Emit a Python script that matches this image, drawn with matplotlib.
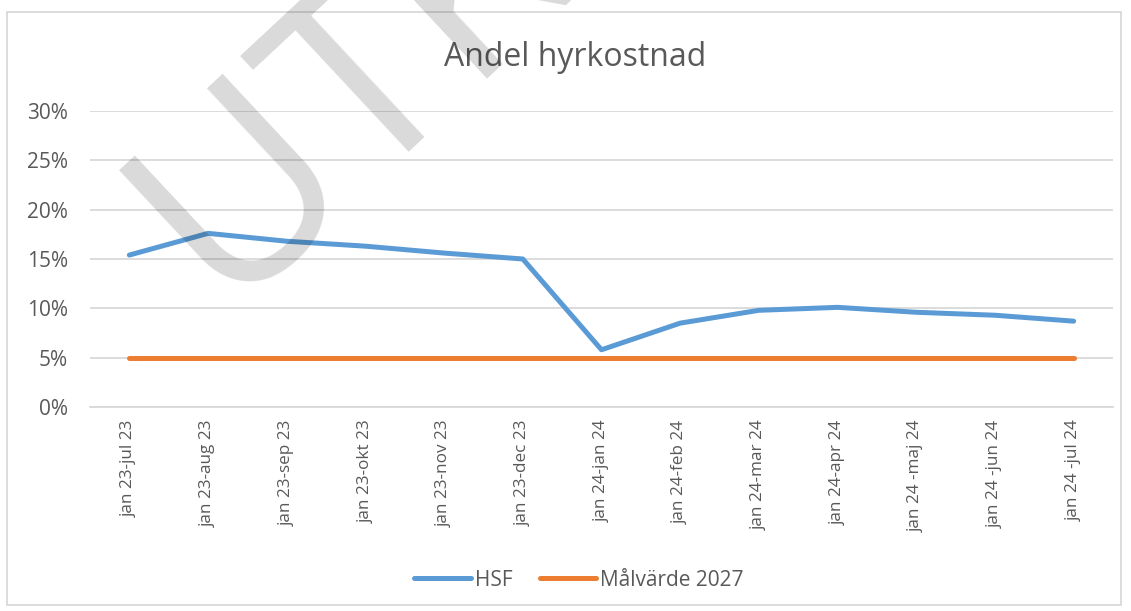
import matplotlib
matplotlib.use("Agg")
import matplotlib.pyplot as plt
from matplotlib.ticker import FuncFormatter, MultipleLocator
from matplotlib.patches import Rectangle

categories = ["jan 23-jul 23", "jan 23-aug 23", "jan 23-sep 23", "jan 23-okt 23",
              "jan 23-nov 23", "jan 23-dec 23", "jan 24-jan 24", "jan 24-feb 24",
              "jan 24-mar 24", "jan 24-apr 24", "jan 24 -maj 24", "jan 24 -jun 24",
              "jan 24 -jul 24"]
hsf = [0.154, 0.176, 0.168, 0.163, 0.156, 0.150, 0.058, 0.085, 0.098, 0.101, 0.096, 0.093, 0.087]
malvarde = [0.05] * 13
title = "Andel hyrkostnad"
watermark = "UTKAST"

plt.rcParams['font.family'] = ['Open Sans', 'DejaVu Sans']
TXT = '#595959'

fig = plt.figure(figsize=(11.31, 6.11), dpi=100)
W, H = 1131, 611
ax = fig.add_axes([90 / W, 1 - 407 / H, (1113 - 90) / W, (407 - 111) / H])

x = list(range(len(categories)))
ax.plot(x, hsf, color='#5B9BD5', lw=3.6, solid_capstyle='round', solid_joinstyle='round',
        label='HSF', zorder=3)
ax.plot(x, malvarde, color='#ED7D31', lw=3.6, solid_capstyle='round', label='Målvärde 2027',
        zorder=3)

ax.set_xlim(-0.5, len(categories) - 0.5)
ax.set_ylim(0, 0.30)
ax.yaxis.set_major_locator(MultipleLocator(0.05))
ax.yaxis.set_major_formatter(FuncFormatter(lambda v, p: f"{v*100:.0f}%"))
ax.grid(axis='y', color='#D9D9D9', lw=1.3)
ax.set_axisbelow(True)
for s in ['top', 'right', 'left']:
    ax.spines[s].set_visible(False)
ax.spines['bottom'].set_color('#D9D9D9')
ax.spines['bottom'].set_linewidth(1.3)
ax.tick_params(axis='y', length=0, pad=16, labelsize=15, labelcolor=TXT)
ax.tick_params(axis='x', length=0, pad=9, labelsize=12.3, labelcolor=TXT)
ax.set_xticks(x)
ax.set_xticklabels(categories, rotation=90, va='top', ha='center')

fig.text(575 / W, 1 - 58 / H, title, ha='center', va='center', fontsize=23, color=TXT)

leg = fig.legend(loc='center', bbox_to_anchor=(579 / W, 1 - 580 / H), ncol=2, frameon=False,
                 fontsize=15, handlelength=2.7, handletextpad=0.2, columnspacing=1.3)
for t in leg.get_texts():
    t.set_color(TXT)

# chart border
fig.patches.append(Rectangle((7 / W, 1 - 605 / H), (1121 - 7) / W, (605 - 12) / H,
                             transform=fig.transFigure, fill=False, ec='#D9D9D9', lw=1.3))

# watermark
fig.text(222 / W, 1 - 305 / H, watermark, rotation=43, rotation_mode='anchor',
         ha='left', va='baseline', fontsize=186, color='black', alpha=0.15,
         family='Open Sans', zorder=10)

fig.savefig('out.png', dpi=100)
